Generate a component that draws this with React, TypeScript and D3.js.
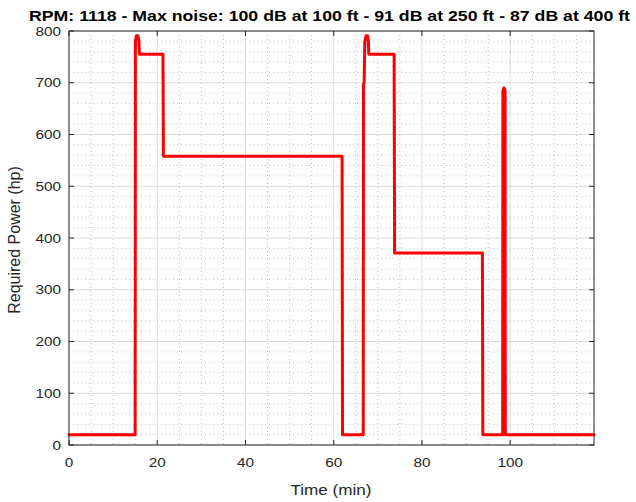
import React from "react";
import * as d3 from "d3";

const timeMin = [0, 15.0, 15.05, 15.3, 15.6, 15.85, 15.95, 21.3, 21.4, 61.9, 62.0, 66.7, 66.75, 66.9, 67.05, 67.35, 67.7, 67.85, 67.95, 73.7, 73.8, 93.7, 93.8, 98.3, 98.35, 98.6, 98.85, 98.9, 119];
const powerHp = [20, 20, 780, 791, 791, 780, 755, 755, 558, 558, 20, 20, 696, 700, 780, 791, 791, 780, 755, 755, 371, 371, 20, 20, 685, 690, 685, 20, 20];
const xTicks = [0, 20, 40, 60, 80, 100];
const yTicks = [0, 100, 200, 300, 400, 500, 600, 700, 800];
const xMinor = d3.range(0, 120, 5);
const yMinor = d3.range(0, 801, 20);
const title = "RPM: 1118 - Max noise: 100 dB at 100 ft - 91 dB at 250 ft - 87 dB at 400 ft";
const xLabel = "Time (min)";
const yLabel = "Required Power (hp)";

const L = 69, R = 594, T = 31, B = 445;
const FONT = "'Liberation Sans', Arial, Helvetica, sans-serif";
const SX = 1.18;

function HText({ x, y, anchor, size, weight, children, fill }: any) {
  return (
    <g transform={`translate(${x},${y}) scale(${SX},1)`}>
      <text x={0} y={0} textAnchor={anchor} fontSize={size} fontWeight={weight || "normal"} fontFamily={FONT} fill={fill || "#262626"}>
        {children}
      </text>
    </g>
  );
}

export default function App() {
  const x = d3.scaleLinear().domain([0, 119]).range([L, R]);
  const y = d3.scaleLinear().domain([0, 800]).range([B, T]);
  const line = d3.line<number>().x((_, i) => x(timeMin[i])).y((d) => y(d));
  const path = line(powerHp) || "";
  const tl = 5;
  return (
    <svg width={636} height={502} style={{ position: "absolute", left: 0, top: 0, background: "#fff" }}>
      <rect x={0} y={0} width={636} height={502} fill="#fff" />
      {/* minor grid */}
      {xMinor.filter((v) => v % 20 !== 0).map((v) => (
        <line key={"xm" + v} x1={x(v)} x2={x(v)} y1={T} y2={B} stroke="#bdbdbd" strokeWidth={1} strokeDasharray="1,3" />
      ))}
      {yMinor.filter((v) => v % 100 !== 0).map((v) => (
        <line key={"ym" + v} x1={L} x2={R} y1={y(v)} y2={y(v)} stroke="#bdbdbd" strokeWidth={1} strokeDasharray="1,3" />
      ))}
      {/* major grid */}
      {xTicks.map((v) => (
        <line key={"xg" + v} x1={x(v)} x2={x(v)} y1={T} y2={B} stroke="#dcdcdc" strokeWidth={1} />
      ))}
      {yTicks.map((v) => (
        <line key={"yg" + v} x1={L} x2={R} y1={y(v)} y2={y(v)} stroke="#dcdcdc" strokeWidth={1} />
      ))}
      {/* data */}
      <path d={path} fill="none" stroke="#ff0000" strokeWidth={3} strokeLinejoin="round" strokeLinecap="round" />
      {/* box */}
      <rect x={L} y={T} width={R - L} height={B - T} fill="none" stroke="#262626" strokeWidth={1} />
      {/* ticks */}
      {xTicks.map((v) => (
        <g key={"xt" + v}>
          <line x1={x(v)} x2={x(v)} y1={B} y2={B - tl} stroke="#262626" />
          <line x1={x(v)} x2={x(v)} y1={T} y2={T + tl} stroke="#262626" />
          <HText x={x(v)} y={467} anchor="middle" size={13}>{String(v)}</HText>
        </g>
      ))}
      {yTicks.map((v) => (
        <g key={"yt" + v}>
          <line x1={L} x2={L + tl} y1={y(v)} y2={y(v)} stroke="#262626" />
          <line x1={R} x2={R - tl} y1={y(v)} y2={y(v)} stroke="#262626" />
          <HText x={61} y={y(v) + 4.5} anchor="end" size={13}>{String(v)}</HText>
        </g>
      ))}
      {/* labels */}
      <HText x={331} y={495} anchor="middle" size={14.5}>{xLabel}</HText>
      <text transform={`translate(20,240) rotate(-90)`} textAnchor="middle" fontSize={16} fontFamily={FONT} fill="#262626">{yLabel}</text>
      <text x={29} y={21} textLength={601} lengthAdjust="spacingAndGlyphs" fontSize={15} fontWeight="bold" fontFamily={FONT} fill="#000">{title}</text>
    </svg>
  );
}
